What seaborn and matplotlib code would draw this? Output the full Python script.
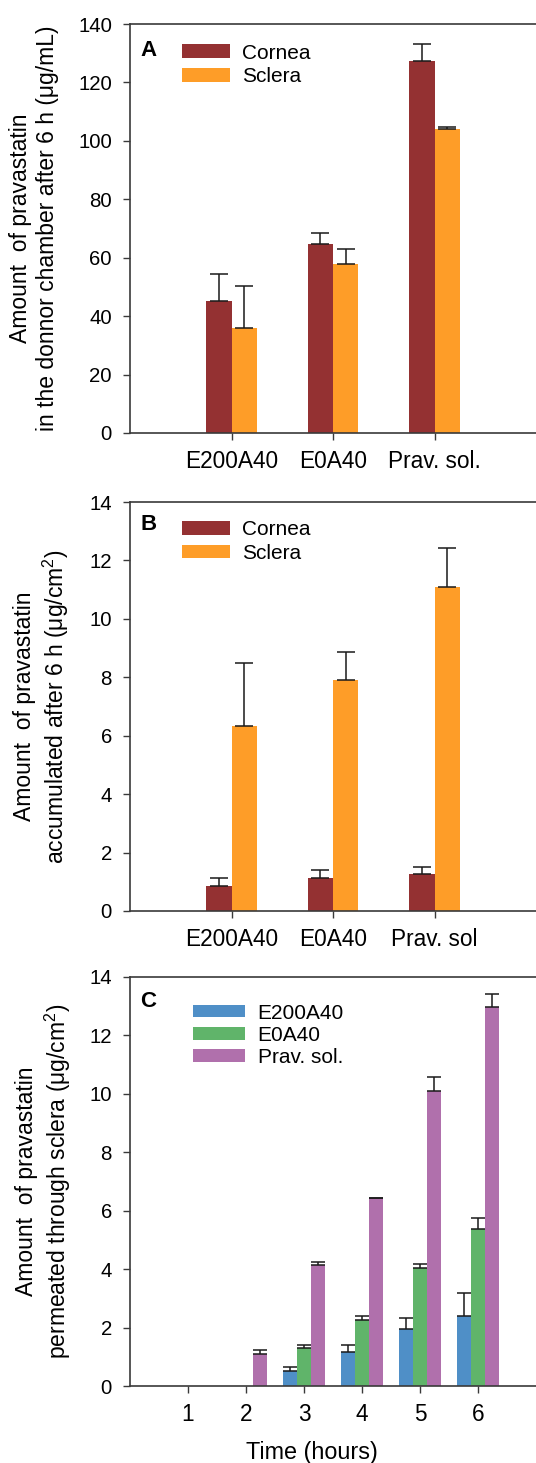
import matplotlib
matplotlib.use('Agg')
import matplotlib.pyplot as plt
import seaborn as sns
import numpy as np
import pandas as pd

# Estilo
sns.set_style('ticks')
plt.rcParams['font.family'] = ['Liberation Sans', 'DejaVu Sans']
plt.rcParams['mathtext.fontset'] = 'custom'
plt.rcParams['mathtext.rm'] = 'Liberation Sans'
plt.rcParams['mathtext.default'] = 'regular'
plt.rcParams['text.color'] = 'black'
plt.rcParams['axes.labelcolor'] = 'black'
plt.rcParams['xtick.labelcolor'] = 'black'
plt.rcParams['ytick.labelcolor'] = 'black'

# Datos panel A (donor chamber, ug/mL)
groups_a = ['E200A40', 'E0A40', 'Prav. sol.']
a_cornea = [45.3, 64.7, 127.3]
a_cornea_sd = [9.0, 3.6, 5.8]
a_sclera = [36.1, 57.7, 103.9]
a_sclera_sd = [14.2, 5.4, 0.7]

# Datos panel B (acumulado, ug/cm2)
groups_b = ['E200A40', 'E0A40', 'Prav. sol']
b_cornea = [0.87, 1.12, 1.27]
b_cornea_sd = [0.25, 0.27, 0.25]
b_sclera = [6.32, 7.90, 11.08]
b_sclera_sd = [2.17, 0.97, 1.34]

# Datos panel C (permeado a traves de esclera)
times = ['1', '2', '3', '4', '5', '6']
c_e200 = [0, 0, 0.52, 1.17, 1.94, 2.41]
c_e200_sd = [0, 0, 0.13, 0.25, 0.40, 0.76]
c_e0 = [0, 0, 1.31, 2.26, 4.05, 5.39]
c_e0_sd = [0, 0, 0.09, 0.15, 0.13, 0.35]
c_prav = [0, 1.11, 4.14, 6.43, 10.10, 12.98]
c_prav_sd = [0, 0.12, 0.09, 0.02, 0.46, 0.45]

tissues = ['Cornea', 'Sclera']
formulations = ['E200A40', 'E0A40', 'Prav. sol.']
col_tissue = ['#943132', '#FE9D28']
col_form = ['#4F8FC7', '#60B46A', '#B070AC']

FS_TICK_Y = 14.7
FS_TICK_X = 16.3
FS_LAB = 16.5
FS_LEG = 15


def panel(ax, cats, names, vals, sds, colors, width, capsize):
    rows = []
    for n, v in zip(names, vals):
        for c, y in zip(cats, v):
            rows.append({'cat': c, 'val': y, 'serie': n})
    df = pd.DataFrame(rows)
    sns.barplot(data=df, x='cat', y='val', hue='serie', order=cats, hue_order=names,
                palette=colors, width=width, saturation=1, errorbar=None,
                linewidth=0, ax=ax)
    # barras de error solo hacia arriba
    for cont, sd in zip(ax.containers, sds):
        xs, ys, es = [], [], []
        for bar, e in zip(cont.patches, sd):
            if e > 0:
                xs.append(bar.get_x() + bar.get_width() / 2)
                ys.append(bar.get_height())
                es.append(e)
        ax.errorbar(xs, ys, yerr=[np.zeros(len(es)), es], fmt='none', ecolor='#1a1a1a',
                    elinewidth=1.1, capsize=capsize, capthick=1.1, zorder=1)
    ax.set_xlabel('')
    for s in ['left', 'bottom', 'top']:
        ax.spines[s].set_color('#3a3a3a')
        ax.spines[s].set_linewidth(1.2)
    ax.spines['right'].set_visible(False)
    ax.tick_params(axis='y', direction='out', length=5, width=1, color='#3a3a3a',
                   labelsize=FS_TICK_Y, pad=8)
    ax.tick_params(axis='x', direction='out', length=5, width=1, color='#3a3a3a',
                   labelsize=FS_TICK_X, pad=7.5)


fig = plt.figure(figsize=(5.36, 14.63), dpi=100)
left = 130 / 536
w = 1 - left
h = 409 / 1463
leg_kw = dict(loc='upper left', frameon=False, fontsize=FS_LEG, handleheight=0.63,
              handletextpad=0.6, borderaxespad=0, borderpad=0)

# Panel A
axA = fig.add_axes([left, 1 - 433 / 1463, w, h])
panel(axA, groups_a, tissues, [a_cornea, a_sclera], [a_cornea_sd, a_sclera_sd],
      col_tissue, 0.5, 6.5)
axA.set_xlim(-1, 3)
axA.set_ylim(0, 140)
axA.set_yticks(np.arange(0, 141, 20))
axA.set_ylabel('Amount  of pravastatin\nin the donnor chamber after 6 h (μg/mL)', fontsize=FS_LAB)
axA.yaxis.set_label_coords(-0.175, 0.5)
axA.legend(bbox_to_anchor=(0.128, 0.952), handlelength=2.3, labelspacing=0.22, **leg_kw)
axA.text(0.026, 0.936, 'A', transform=axA.transAxes, fontsize=16, fontweight='bold', va='center')

# Panel B
axB = fig.add_axes([left, 1 - 911 / 1463, w, h])
panel(axB, groups_b, tissues, [b_cornea, b_sclera], [b_cornea_sd, b_sclera_sd],
      col_tissue, 0.5, 6.5)
axB.set_xlim(-1, 3)
axB.set_ylim(0, 14)
axB.set_yticks(np.arange(0, 15, 2))
axB.set_ylabel('Amount  of pravastatin\naccumulated after 6 h (μg/cm$^{2}$)', fontsize=FS_LAB)
axB.yaxis.set_label_coords(-0.145, 0.5)
axB.legend(bbox_to_anchor=(0.128, 0.955), handlelength=2.3, labelspacing=0.22, **leg_kw)
axB.text(0.026, 0.944, 'B', transform=axB.transAxes, fontsize=16, fontweight='bold', va='center')

# Panel C
axC = fig.add_axes([left, 1 - 1386 / 1463, w, h])
panel(axC, times, formulations, [c_e200, c_e0, c_prav], [c_e200_sd, c_e0_sd, c_prav_sd],
      col_form, 0.72, 4.7)
axC.set_xlim(-1, 6)
axC.set_ylim(0, 14)
axC.set_yticks(np.arange(0, 15, 2))
axC.set_ylabel('Amount  of pravastatin\npermeated through sclera (μg/cm$^{2}$)', fontsize=FS_LAB)
axC.yaxis.set_label_coords(-0.14, 0.5)
axC.set_xlabel('Time (hours)', fontsize=16.8)
axC.xaxis.set_label_coords(0.447, -0.1335)
axC.legend(bbox_to_anchor=(0.155, 0.935), handlelength=2.5, labelspacing=0.15,
           **{**leg_kw, 'handleheight': 0.55})
axC.text(0.024, 0.94, 'C', transform=axC.transAxes, fontsize=16, fontweight='bold', va='center')

fig.savefig('out.png', dpi=100)
